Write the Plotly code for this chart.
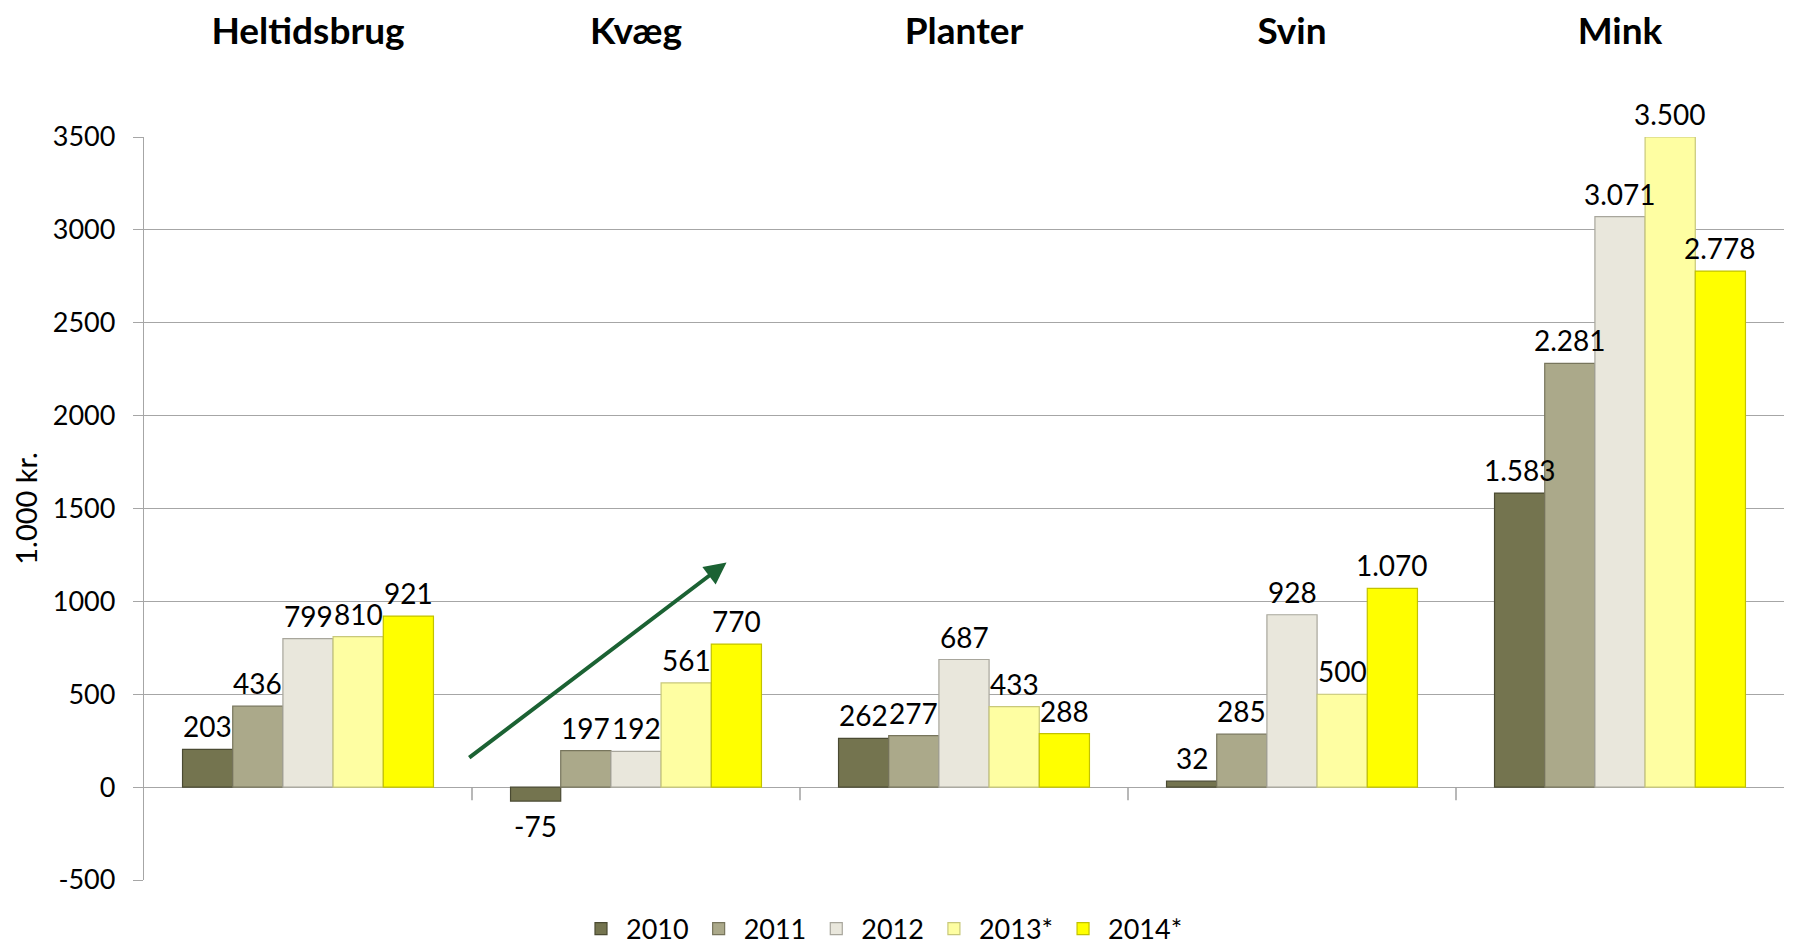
import plotly.graph_objects as go

# categories and yearly values (1.000 kr.)
categories = ["Heltidsbrug", "Kvæg", "Planter", "Svin", "Mink"]
years = ["2010", "2011", "2012", "2013*", "2014*"]
v2010 = [203, -75, 262, 32, 1583]
v2011 = [436, 197, 277, 285, 2281]
v2012 = [799, 192, 687, 928, 3071]
v2013 = [810, 561, 433, 500, 3500]
v2014 = [921, 770, 288, 1070, 2778]
y_ticks = [-500, 0, 500, 1000, 1500, 2000, 2500, 3000, 3500]

series = [v2010, v2011, v2012, v2013, v2014]
fills = ["#74744f", "#aba98a", "#e9e7dc", "#fefea2", "#ffff00"]
edges = ["#4a4a32", "#77755c", "#a8a69c", "#c8c87a", "#c2c200"]

# trend arrow in the Kvæg group (tail -> head, data coords)
arrow_tail = (0.487, 153)
arrow_head = (1.276, 1209)

W, H = 1797, 943
M = dict(l=136, r=21, t=129, b=71)
BARGAP = 0.235


def dk(v):
    # danish thousands separator
    return f"{v:,}".replace(",", ".")


fig = go.Figure()

for name, vals, fc, ec in zip(years, series, fills, edges):
    fig.add_trace(go.Bar(
        x=categories, y=vals,
        name=name,
        marker=dict(color=fc, line=dict(color=ec, width=1.2)),
    ))

# value labels as annotations so they sit above neighbouring bars
plot_w = W - M["l"] - M["r"]
bar_px = plot_w / len(categories) * (1 - BARGAP) / len(series)
for k, vals in enumerate(series):
    shift = (k - (len(series) - 1) / 2) * bar_px
    for cat, v in zip(categories, vals):
        fig.add_annotation(
            x=cat, y=v, xref="x", yref="y", text=dk(v), showarrow=False,
            xshift=shift, yshift=4 if v >= 0 else -6,
            yanchor="bottom" if v >= 0 else "top",
            font=dict(family="Lato", size=28, color="black"),
        )

# small tick marks at the category boundaries on the zero line
for i in range(1, len(categories)):
    fig.add_shape(type="line", xref="x", yref="y",
                  x0=i - 0.5, x1=i - 0.5, y0=0, y1=-70,
                  line=dict(color="#a0a0a0", width=1.5))

fig.add_annotation(
    x=arrow_head[0], y=arrow_head[1], ax=arrow_tail[0], ay=arrow_tail[1],
    xref="x", yref="y", axref="x", ayref="y",
    text="", showarrow=True,
    arrowhead=2, arrowsize=1.1, arrowwidth=4, arrowcolor="#1b6233",
)

fig.update_layout(
    width=W, height=H,
    margin=dict(**M, autoexpand=False),
    plot_bgcolor="white", paper_bgcolor="white",
    barmode="group", bargap=BARGAP, bargroupgap=0,
    font=dict(family="Lato", color="black"),
    legend=dict(orientation="h", x=0.45, xanchor="center", y=-0.066, yanchor="middle",
                font=dict(family="Lato", size=27), itemwidth=40, traceorder="normal"),
    showlegend=True,
)

fig.update_xaxes(
    side="top", type="category", automargin=False,
    tickfont=dict(family="Lato", size=37, color="black", weight="bold"),
    ticklabelstandoff=85,
    showline=False, showgrid=False, ticks="",
)

fig.update_yaxes(
    range=[-500, 3500], tickvals=y_ticks, ticktext=[str(t) for t in y_ticks],
    automargin=False,
    tickfont=dict(family="Lato", size=27, color="black"),
    ticklabelstandoff=12,
    showgrid=True, gridcolor="#a6a6a6", gridwidth=1.3,
    zeroline=True, zerolinecolor="#a6a6a6", zerolinewidth=1.3,
    showline=True, linecolor="#a6a6a6", linewidth=1.3,
    ticks="outside", ticklen=10, tickcolor="#a6a6a6",
    title=dict(text="1.000 kr.", font=dict(family="Lato", size=29), standoff=14),
)

fig.write_html("out.html")
